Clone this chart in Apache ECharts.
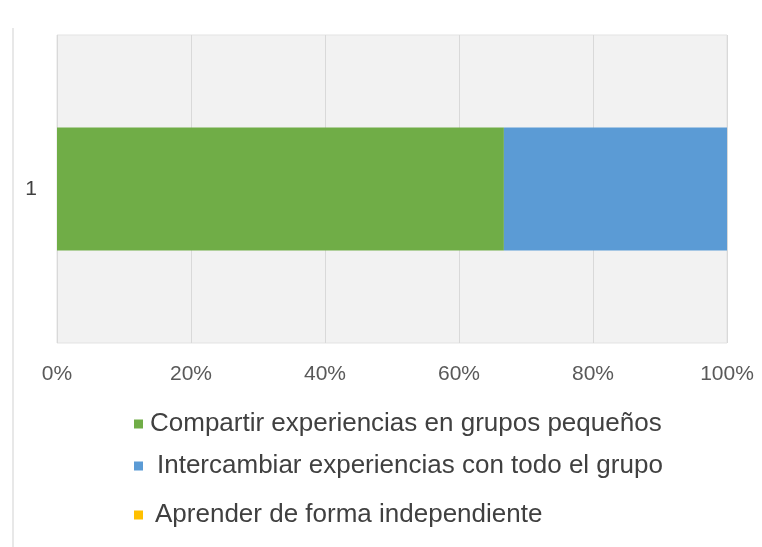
<!DOCTYPE html>
<html>
<head>
<meta charset="utf-8">
<script src="https://cdn.jsdelivr.net/npm/echarts@6/dist/echarts.min.js"></script>
<style>html,body{margin:0;padding:0;background:#fff}#c{width:762px;height:547px}</style>
</head>
<body>
<div id="c"></div>
<script>
const categories = ['1'];
const seriesNames = ['Compartir experiencias en grupos pequeños', 'Intercambiar experiencias con todo el grupo', 'Aprender de forma independiente'];
const compartir = [66.7];
const intercambiar = [33.3];
const aprender = [0];
const xTicks = [0, 20, 40, 60, 80, 100];

const colors = ['#70ad47', '#5b9bd5', '#ffc000'];
const values = [compartir, intercambiar, aprender];
const font = 'Liberation Sans, Arial, sans-serif';

const chart = echarts.init(document.getElementById('c'));
const legendPos = [
  { top: 411, pad: 2 },
  { top: 453, pad: 9 },
  { top: 502, pad: 7 }
];
chart.setOption({
  animation: false,
  backgroundColor: '#ffffff',
  grid: {
    left: 57, right: 35, top: 35, bottom: 204,
    show: true, backgroundColor: '#f2f2f2', borderColor: '#e3e3e3', borderWidth: 1
  },
  xAxis: {
    type: 'value', min: xTicks[0], max: xTicks[xTicks.length - 1], interval: 20,
    axisLine: { show: false }, axisTick: { show: false },
    splitLine: { show: true, lineStyle: { color: '#d9d9d9', width: 1 } },
    axisLabel: { formatter: '{value}%', color: '#595959', fontSize: 21, fontFamily: font, margin: 21 }
  },
  yAxis: {
    type: 'category', data: categories,
    axisLine: { show: false }, axisTick: { show: false },
    axisLabel: { color: '#404040', fontSize: 21, fontFamily: font, margin: 20 }
  },
  legend: seriesNames.map((n, i) => ({
    data: [n], orient: 'vertical', left: 134, top: legendPos[i].top, padding: 0,
    icon: 'rect', itemWidth: 9, itemHeight: 9, selectedMode: false,
    textStyle: { color: '#404040', fontSize: 26, fontFamily: font, lineHeight: 26, padding: [0, 0, 0, legendPos[i].pad] }
  })),
  graphic: [{
    type: 'line', shape: { x1: 13, y1: 28, x2: 13, y2: 547 },
    style: { stroke: '#e0e0e0', lineWidth: 1.5 }
  }],
  series: seriesNames.map((n, i) => ({
    name: n, type: 'bar', stack: 'total', data: values[i], barWidth: 123,
    itemStyle: { color: colors[i] }
  }))
});
</script>
</body>
</html>
